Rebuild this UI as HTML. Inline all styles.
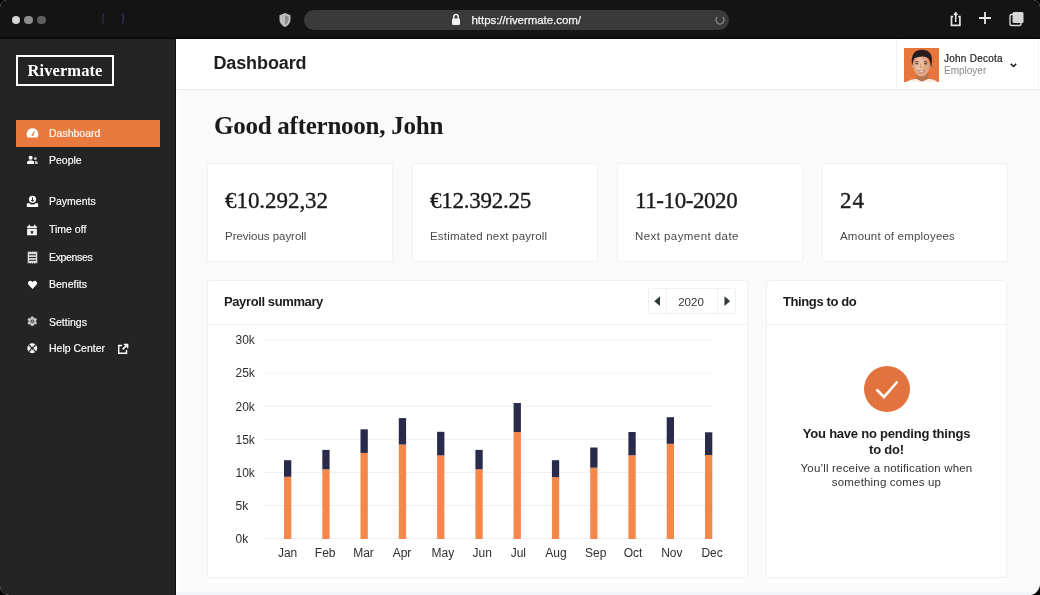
<!DOCTYPE html>
<html lang="en">
<head>
<meta charset="utf-8">
<title>Rivermate Dashboard</title>
<style>
*{box-sizing:border-box;margin:0;padding:0}
html,body{width:1040px;height:595px;overflow:hidden;background:#000}
body{font-family:"Liberation Sans",sans-serif;color:#1c1c1c;position:relative}
.win{position:absolute;left:0;top:0;width:1040px;height:595px;border-radius:7px 7px 11px 9px;overflow:hidden;background:#fafafa}
.abs{position:absolute}
/* browser chrome */
.chrome{position:absolute;left:0;top:0;width:1040px;height:39px;background:#141414;border-bottom:2px solid #0b0b0b}
.dot{position:absolute;top:15.500px;width:8.500px;height:8.500px;border-radius:50%}
.url{position:absolute;left:304px;top:10px;width:425px;height:20px;border-radius:10px;background:#3a3a3a}
.urltxt{position:absolute;left:471.5px;top:13px;font-size:11.5px;line-height:14px;color:#f4f4f4;letter-spacing:-.05px;-webkit-text-stroke:.25px #f4f4f4}
/* sidebar */
.side{position:absolute;left:0;top:39px;width:176px;height:556px;background:#242424;border-right:1px solid #111}
.logo{position:absolute;left:16px;top:16px;width:98px;height:31px;border:2px solid #fff;color:#fff;font-family:"Liberation Serif",serif;font-weight:bold;font-size:16.5px;line-height:27px;text-align:center;letter-spacing:.1px}
.nav{position:absolute;left:16px;width:144px;height:27px;color:#fff;font-size:10.5px;line-height:27px;padding-left:33px;white-space:nowrap;-webkit-text-stroke:.15px #fff}
.nav.on{background:#e8793f}
.nav svg{position:absolute;left:9.500px;top:7px;width:13px;height:13px}
/* header */
.head{position:absolute;left:176px;top:39px;width:864px;height:51px;background:#fff;border-bottom:1px solid #ececec}
.head h1{position:absolute;left:37.4px;top:13px;font-size:18px;line-height:22px;font-weight:bold;color:#1f1f1f;letter-spacing:-.1px}
.user{position:absolute;left:720px;top:0;width:143px;height:50px;border-left:1px solid #f4f4f4;border-right:1px solid #f4f4f4}
.ava{position:absolute;left:7px;top:9px;width:35px;height:34px;background:#e5763d;overflow:hidden}
.uname{position:absolute;left:47px;top:13.500px;font-size:10px;line-height:12px;color:#222;white-space:nowrap;letter-spacing:.25px;-webkit-text-stroke:.2px #222}
.urole{position:absolute;left:47px;top:25.700px;font-size:10px;line-height:12px;color:#8a8a8a;white-space:nowrap}
/* main */
.greet{position:absolute;left:214px;top:110px;font-family:"Liberation Serif",serif;font-weight:bold;font-size:25px;line-height:32px;color:#1a1a1a;white-space:nowrap;letter-spacing:-.25px}
.card{position:absolute;top:163px;width:186px;height:99px;background:#fff;border:1px solid #f1f1f1;border-radius:3px}
.card .n{position:absolute;left:17px;top:23.400px;font-family:"Liberation Serif",serif;font-size:23px;line-height:28px;color:#1a1a1a;white-space:nowrap;-webkit-text-stroke:.35px #1a1a1a}
.card .l{position:absolute;left:17px;top:65.300px;font-size:11.5px;line-height:14px;color:#4a4a4a;white-space:nowrap}
.panel{position:absolute;top:280px;height:298px;background:#fff;border:1px solid #f1f1f1;border-radius:3px;box-shadow:0 5px 0 rgba(255,255,255,.55)}
.panel .ph{position:absolute;left:0;top:0;right:0;height:44px;border-bottom:1px solid #f1f1f1}
.panel .ph b{position:absolute;left:16px;top:13px;font-size:13px;line-height:16px;color:#1c1c1c;white-space:nowrap;letter-spacing:-.39px}
.yr{position:absolute;left:440px;top:7px;width:88px;height:26px;border:1px solid #f0f0f0;border-radius:2px}
.yr i{position:absolute;top:0;width:1px;height:24px;background:#f0f0f0}
.yr span{position:absolute;left:17px;width:50px;top:5.500px;text-align:center;font-size:11.5px;line-height:14px;color:#333}
.chk{position:absolute;left:97.300px;top:85px;width:46px;height:46px}
.t1{position:absolute;left:0;right:0;top:145px;text-align:center;font-size:13px;line-height:16px;font-weight:bold;color:#1c1c1c;letter-spacing:-.22px}
.t2{position:absolute;left:0;right:0;top:180px;text-align:center;font-size:11.5px;line-height:14px;color:#333;letter-spacing:.18px}
</style>
</head>
<body>
<div class="win">

<!-- browser chrome -->
<div class="chrome">
  <div class="dot" style="left:11.500px;background:#d6d6d6"></div>
  <div class="dot" style="left:24.300px;background:#8e8e8e"></div>
  <div class="dot" style="left:37.000px;background:#5e5e5e"></div>
  <svg class="abs" style="left:98px;top:12px" width="32" height="14" viewBox="0 0 32 14"><path d="M6 1.5Q3 7 6 12.5M24 1.5Q27 7 24 12.5" fill="none" stroke="#2a2a44" stroke-width="1.800"/></svg>
  <svg class="abs" style="left:277px;top:12px" width="16" height="16" viewBox="0 0 16 16"><path d="M8 1L13.5 3.2V7.6C13.5 11 11 13.8 8 15C5 13.8 2.500 11 2.500 7.600V3.200Z" fill="#bdbdbd"/><path d="M8 3.300V12.700C10 11.700 11.500 9.800 11.500 7.500V4.600Z" fill="#8d8d8d"/></svg>
  <div class="url"></div>
  <svg class="abs" style="left:451px;top:13px" width="10" height="13" viewBox="0 0 10 13"><rect x="1" y="5.500" width="8" height="6.500" rx="1" fill="#f2f2f2"/><path d="M2.800 6V3.800A2.200 2.200 0 0 1 7.200 3.800V6" fill="none" stroke="#f2f2f2" stroke-width="1.500"/></svg>
  <div class="urltxt">https://rivermate.com/</div>
  <svg class="abs" style="left:714px;top:14px" width="12" height="12" viewBox="0 0 12 12"><path d="M3.200 3.200A4 4 0 1 0 8.800 3.200" fill="none" stroke="#8a8a8a" stroke-width="1.300"/></svg>
  <svg class="abs" style="left:947px;top:9px" width="18" height="20" viewBox="0 0 18 20"><path d="M6.200 7.700H4.500V16.300H12.900V7.700H11.200" fill="none" stroke="#e4e4e4" stroke-width="1.700"/><path d="M8.700 13V4.500M7 6L8.700 4.200L10.400 6" fill="none" stroke="#e4e4e4" stroke-width="1.500"/><circle cx="8.700" cy="4.200" r="1.100" fill="#e4e4e4"/></svg>
  <svg class="abs" style="left:977px;top:10.200px" width="16" height="16" viewBox="0 0 16 16"><path d="M8 2V14M2 8H14" stroke="#e8e8e8" stroke-width="1.800"/></svg>
  <svg class="abs" style="left:1007.500px;top:10px" width="18" height="18" viewBox="0 0 18 18"><rect x="2" y="4.500" width="11" height="11" rx="1.500" fill="#141414" stroke="#d6d6d6" stroke-width="1.400"/><rect x="4.500" y="2" width="11" height="11" rx="1.500" fill="#d6d6d6"/></svg>
</div>

<!-- sidebar -->
<div class="side">
  <div class="logo">Rivermate</div>

  <div class="nav on" style="top:81px"><svg viewBox="0 0 12 12"><path d="M6 1.200A5.300 5.300 0 0 0 1.600 9.600H10.400A5.300 5.300 0 0 0 6 1.200Z" fill="#fff"/><path d="M6 7.400L7.800 4.200" stroke="#e8793f" stroke-width="1.100"/><circle cx="6" cy="7.400" r="1" fill="#e8793f"/></svg>Dashboard</div>
  <div class="nav" style="top:108px"><svg viewBox="0 0 12 12" style="left:10px;top:7px;width:12px;height:12px"><circle cx="4.600" cy="3.800" r="2" fill="#fff"/><path d="M1 10V9A2.600 2.600 0 0 1 3.600 6.400H5.600A2.600 2.600 0 0 1 8.200 9V10Z" fill="#fff"/><circle cx="9.300" cy="4.400" r="1.500" fill="#bbb"/><path d="M9 10V8.800C9 8 8.700 7.400 8.300 6.900H10A1.800 1.800 0 0 1 11.800 8.700V10Z" fill="#bbb"/></svg>People</div>

  <div class="nav" style="top:149px"><svg viewBox="0 0 12 12"><circle cx="6" cy="4" r="3.300" fill="#fff"/><path d="M6 2.200V5.800M4.800 4.600L6 5.900L7.200 4.600" stroke="#242424" stroke-width=".9" fill="none"/><path d="M.8 7.600H3.500L4.300 8.800H7.700L8.500 7.600H11.200V11H.8Z" fill="#fff"/></svg>Payments</div>
  <div class="nav" style="top:177px"><svg viewBox="0 0 12 12" style="left:10px;top:7.500px;width:12px;height:12px"><path d="M1.200 2.200H10.800V4.200H1.200Z" fill="#fff"/><path d="M3.300 .8V3M8.700 .8V3" stroke="#fff" stroke-width="1.300"/><path d="M1.200 4.900H10.800V11.200H1.200Z" fill="#fff"/><path d="M6 6L6.600 7.400L8.100 7.500L7 8.500L7.300 10L6 9.200L4.700 10L5 8.500L3.900 7.500L5.400 7.400Z" fill="#242424"/></svg>Time off</div>
  <div class="nav" style="top:205px"><svg viewBox="0 0 12 14" style="left:10.500px;top:6.500px;width:11px;height:13px"><path d="M.800 .300L2.100 1.300L3.400 .300L4.700 1.300L6 .300L7.300 1.300L8.600 .300L9.900 1.300L11.200 .300V13.700L9.900 12.700L8.600 13.700L7.300 12.700L6 13.700L4.700 12.700L3.400 13.700L2.100 12.700L.800 13.700Z" fill="#dcdcdc"/><path d="M2.200 4H9.800M2.200 7H9.800M2.200 10H9.800" stroke="#242424" stroke-width="1.100"/></svg><span style="letter-spacing:-.35px">Expenses</span></div>
  <div class="nav" style="top:231.500px"><svg viewBox="0 0 12 12" style="left:10.500px;top:8px;width:11px;height:11px"><path d="M6 10.800L1.600 6.400A2.700 2.700 0 0 1 5.400 2.600L6 3.200L6.600 2.600A2.700 2.700 0 0 1 10.400 6.400Z" fill="#fff"/></svg>Benefits</div>

  <div class="nav" style="top:269.700px"><svg viewBox="0 0 12 12" style="left:11.300px;top:7.800px;width:10.500px;height:10.500px"><g fill="#c4c4c4"><circle cx="6" cy="6" r="3.600"/><circle cx="6" cy="2.200" r="1.900"/><circle cx="6" cy="9.800" r="1.900"/><circle cx="2.700" cy="4.100" r="1.900"/><circle cx="9.300" cy="4.100" r="1.900"/><circle cx="2.700" cy="7.900" r="1.900"/><circle cx="9.300" cy="7.900" r="1.900"/></g><circle cx="6" cy="6" r="1.900" fill="#3a3a3a"/><circle cx="6" cy="6" r=".9" fill="#d8d8d8"/></svg>Settings</div>
  <div class="nav" style="top:296px"><svg viewBox="0 0 12 12" style="left:11px;top:8px;width:10.500px;height:10.500px"><circle cx="6" cy="6" r="5.600" fill="#f2f2f2"/><circle cx="6" cy="6" r="1.700" fill="#242424"/><path d="M2 2L4.600 4.600M10 2L7.400 4.600M2 10L4.600 7.400M10 10L7.400 7.400" stroke="#242424" stroke-width="1.300"/></svg>Help Center<svg viewBox="0 0 12 12" style="left:101px;top:7.500px;width:12px;height:12px"><path d="M9.500 7V10.300H1.700V2.500H5" fill="none" stroke="#fff" stroke-width="1.400"/><path d="M6.800 1.400H10.600V5.200M10.400 1.600L5.600 6.400" fill="none" stroke="#fff" stroke-width="1.500"/></svg></div>
</div>

<!-- header -->
<div class="head">
  <h1>Dashboard</h1>
  <div class="user">
    <div class="ava">
      <svg width="35" height="34" viewBox="0 0 35 34"><rect width="35" height="34" fill="#e6763c"/><path d="M2 34C5 32 9 31.200 12.500 30.800L17.500 33.500L24.500 30.800C28.500 31.200 31.500 32.300 33.500 34Z" fill="#f4efe9"/><path d="M12.300 23H24.500V30.500L18 33.600L12.300 30.500Z" fill="#b5744c"/><ellipse cx="8.900" cy="17.800" rx="1.300" ry="2.200" fill="#d39a78"/><ellipse cx="25.900" cy="18.300" rx="1.300" ry="2.200" fill="#c98d6b"/><ellipse cx="17.400" cy="17.800" rx="8.200" ry="11" fill="#dfa583"/><ellipse cx="15.600" cy="16.800" rx="4.600" ry="7.500" fill="#efc4a5" opacity=".75"/><path d="M8.300 17.500C7 11.500 8 5.500 12.500 3C17.500 .600 24 1.600 26.800 6.200C28.500 9.500 28 15 27 20C26.700 16.500 26.200 13 24.800 10.800C22.500 8.600 19.500 8 16.500 8.700C13.500 9.300 11.300 9.200 10.200 10.600C9.200 12.500 8.800 15 8.300 17.500Z" fill="#271c1f"/><path d="M11.200 14.100Q12.800 13.300 14.500 14M20 14Q21.600 13.300 23.300 14.100" fill="none" stroke="#3a2a26" stroke-width=".9"/><path d="M11.600 15.700H14.200M20.300 15.700H22.900" stroke="#2e201d" stroke-width="1.100"/><path d="M16.600 16V19.600Q17.400 20.300 18.400 19.600" fill="none" stroke="#c58a68" stroke-width=".7"/><path d="M13.800 22.300Q17.400 26.400 21 22.300Q17.400 23.600 13.800 22.300Z" fill="#fff" stroke="#a8624a" stroke-width=".5"/></svg>
    </div>
    <div class="uname">John Decota</div>
    <div class="urole">Employer</div>
    <svg class="abs" style="left:112.500px;top:24px" width="7" height="5" viewBox="0 0 7 5"><path d="M.800 .900L3.500 3.500L6.200 .900" fill="none" stroke="#1c1c1c" stroke-width="1.500"/></svg>
  </div>
</div>

<!-- main -->
<div class="abs" style="left:176px;top:90px;width:6px;height:505px;background:linear-gradient(90deg,#fff,#fafafa)"></div>
<div class="abs" style="left:176px;top:592px;width:864px;height:3px;background:#f4f5f7"></div>
<div class="greet">Good afternoon, John</div>

<div class="card" style="left:207px"><div class="n" style="letter-spacing:-.05px">€10.292,32</div><div class="l" style="letter-spacing:-.03px">Previous payroll</div></div>
<div class="card" style="left:412px"><div class="n" style="letter-spacing:-.25px">€12.392.25</div><div class="l" style="letter-spacing:.19px">Estimated next payroll</div></div>
<div class="card" style="left:617px"><div class="n" style="letter-spacing:-.42px">11-10-2020</div><div class="l" style="letter-spacing:.43px">Next payment date</div></div>
<div class="card" style="left:822px"><div class="n" style="letter-spacing:1px">24</div><div class="l" style="letter-spacing:.2px">Amount of employees</div></div>

<div class="panel" style="left:207px;width:540.500px">
  <div class="ph"><b>Payroll summary</b>
    <div class="yr"><i style="left:17px"></i><i style="left:68px"></i><span>2020</span>
      <svg class="abs" style="left:4.500px;top:7.300px" width="6.500" height="10.300" viewBox="0 0 7 11"><path d="M6.500 0.300V10.700L0.300 5.500Z" fill="#2c3a3a"/></svg>
      <svg class="abs" style="left:74.700px;top:7.300px" width="6.500" height="10.300" viewBox="0 0 7 11"><path d="M0.500 0.300V10.700L6.700 5.500Z" fill="#2c3a3a"/></svg>
    </div>
  </div>
</div>
<svg class="abs" style="left:0;top:0" width="1040" height="595" viewBox="0 0 1040 595" font-family="Liberation Sans, sans-serif">
<g stroke="#efefef" stroke-width="1">
<line x1="264" y1="340.0" x2="712" y2="340.0"/>
<line x1="264" y1="373.1" x2="712" y2="373.1"/>
<line x1="264" y1="406.2" x2="712" y2="406.2"/>
<line x1="264" y1="439.3" x2="712" y2="439.3"/>
<line x1="264" y1="472.4" x2="712" y2="472.4"/>
<line x1="264" y1="505.5" x2="712" y2="505.5"/>
<line x1="264" y1="538.6" x2="712" y2="538.6"/>
</g>
<g font-size="12" fill="#2e2e2e">
<text x="235.5" y="344.3">30k</text>
<text x="235.5" y="377.4">25k</text>
<text x="235.5" y="410.5">20k</text>
<text x="235.5" y="443.6">15k</text>
<text x="235.5" y="476.7">10k</text>
<text x="235.5" y="509.8">5k</text>
<text x="235.5" y="542.9">0k</text>
</g>
<g>
<rect x="284.0" y="476.8" width="7.3" height="62.2" fill="#f5874a"/><rect x="284.0" y="460.2" width="7.3" height="16.6" fill="#2a2a4a"/>
<rect x="322.3" y="469.3" width="7.3" height="69.7" fill="#f5874a"/><rect x="322.3" y="449.9" width="7.3" height="19.4" fill="#2a2a4a"/>
<rect x="360.5" y="452.9" width="7.3" height="86.1" fill="#f5874a"/><rect x="360.5" y="429.3" width="7.3" height="23.6" fill="#2a2a4a"/>
<rect x="398.8" y="444.5" width="7.3" height="94.5" fill="#f5874a"/><rect x="398.8" y="418.1" width="7.3" height="26.4" fill="#2a2a4a"/>
<rect x="437.1" y="455.4" width="7.3" height="83.6" fill="#f5874a"/><rect x="437.1" y="431.8" width="7.3" height="23.6" fill="#2a2a4a"/>
<rect x="475.4" y="469.2" width="7.3" height="69.8" fill="#f5874a"/><rect x="475.4" y="449.9" width="7.3" height="19.3" fill="#2a2a4a"/>
<rect x="513.6" y="432.0" width="7.3" height="107.0" fill="#f5874a"/><rect x="513.6" y="403.0" width="7.3" height="29.0" fill="#2a2a4a"/>
<rect x="551.9" y="477.1" width="7.3" height="61.9" fill="#f5874a"/><rect x="551.9" y="460.2" width="7.3" height="16.9" fill="#2a2a4a"/>
<rect x="590.2" y="467.7" width="7.3" height="71.3" fill="#f5874a"/><rect x="590.2" y="447.5" width="7.3" height="20.2" fill="#2a2a4a"/>
<rect x="628.4" y="455.3" width="7.3" height="83.7" fill="#f5874a"/><rect x="628.4" y="432.0" width="7.3" height="23.3" fill="#2a2a4a"/>
<rect x="666.7" y="443.8" width="7.3" height="95.2" fill="#f5874a"/><rect x="666.7" y="417.2" width="7.3" height="26.6" fill="#2a2a4a"/>
<rect x="705.0" y="455.0" width="7.3" height="84.0" fill="#f5874a"/><rect x="705.0" y="432.3" width="7.3" height="22.7" fill="#2a2a4a"/>
</g>
<g font-size="12" fill="#2e2e2e" text-anchor="middle">
<text x="287.6" y="556.5">Jan</text>
<text x="325.2" y="556.5">Feb</text>
<text x="363.5" y="556.5">Mar</text>
<text x="402.0" y="556.5">Apr</text>
<text x="442.9" y="556.5">May</text>
<text x="482.2" y="556.5">Jun</text>
<text x="518.3" y="556.5">Jul</text>
<text x="556.0" y="556.5">Aug</text>
<text x="595.8" y="556.5">Sep</text>
<text x="633.0" y="556.5">Oct</text>
<text x="671.8" y="556.5">Nov</text>
<text x="712.1" y="556.5">Dec</text>
</g>
</svg>

<div class="panel" style="left:766px;width:241px">
  <div class="ph"><b>Things to do</b></div>
  <div class="chk"><svg width="46" height="46" viewBox="0 0 46 46"><circle cx="23" cy="23" r="23" fill="#e2733e"/><path d="M12.500 23.500L20 31L33.500 15.500" fill="none" stroke="#fff" stroke-width="2.600"/></svg></div>
  <div class="t1">You have no pending things<br>to do!</div>
  <div class="t2">You’ll receive a notification when<br>something comes up</div>
</div>

</div>
</body>
</html>
